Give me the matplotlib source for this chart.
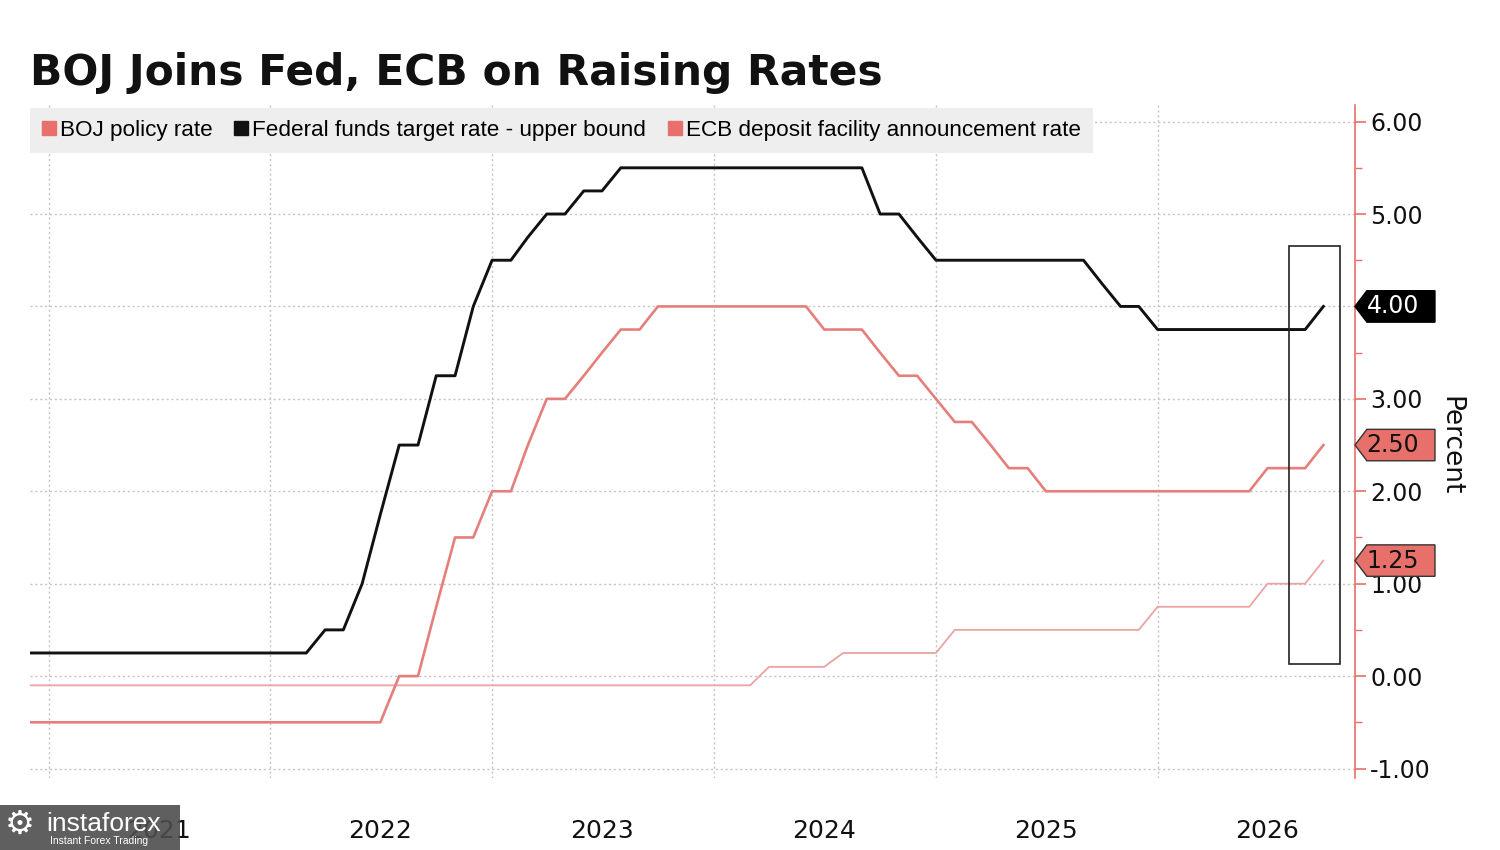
import matplotlib
matplotlib.use('Agg')
import matplotlib.pyplot as plt
import matplotlib.dates as mdates
from matplotlib.patches import Polygon, Rectangle
from matplotlib.lines import Line2D
from matplotlib.ticker import MultipleLocator
from matplotlib.transforms import blended_transform_factory
import pandas as pd

plt.rcParams['font.family'] = ['DejaVu Sans']

# ---------------- data (monthly, Dec 2020 .. Oct 2026) ----------------
months = pd.date_range('2020-12-01', '2026-10-01', freq='MS')

boj = [-0.1, -0.1, -0.1, -0.1, -0.1, -0.1, -0.1, -0.1, -0.1, -0.1,
       -0.1, -0.1, -0.1, -0.1, -0.1, -0.1, -0.1, -0.1, -0.1, -0.1,
       -0.1, -0.1, -0.1, -0.1, -0.1, -0.1, -0.1, -0.1, -0.1, -0.1,
       -0.1, -0.1, -0.1, -0.1, -0.1, -0.1, -0.1, -0.1, -0.1, -0.1,
       0.1, 0.1, 0.1, 0.1,
       0.25, 0.25, 0.25, 0.25, 0.25, 0.25,
       0.5, 0.5, 0.5, 0.5, 0.5, 0.5, 0.5, 0.5, 0.5, 0.5, 0.5,
       0.75, 0.75, 0.75, 0.75, 0.75, 0.75,
       1.0, 1.0, 1.0,
       1.25]

fed = [0.25, 0.25, 0.25, 0.25, 0.25, 0.25, 0.25, 0.25, 0.25, 0.25,
       0.25, 0.25, 0.25, 0.25, 0.25, 0.25,
       0.5, 0.5, 1.0, 1.75, 2.5, 2.5, 3.25, 3.25, 4.0, 4.5, 4.5, 4.75,
       5.0, 5.0, 5.25, 5.25,
       5.5, 5.5, 5.5, 5.5, 5.5, 5.5, 5.5, 5.5, 5.5, 5.5, 5.5, 5.5, 5.5, 5.5,
       5.0, 5.0, 4.75,
       4.5, 4.5, 4.5, 4.5, 4.5, 4.5, 4.5, 4.5, 4.5,
       4.25, 4.0, 4.0,
       3.75, 3.75, 3.75, 3.75, 3.75, 3.75, 3.75, 3.75, 3.75,
       4.0]

ecb = [-0.5, -0.5, -0.5, -0.5, -0.5, -0.5, -0.5, -0.5, -0.5, -0.5,
       -0.5, -0.5, -0.5, -0.5, -0.5, -0.5, -0.5, -0.5, -0.5, -0.5,
       0.0, 0.0, 0.75, 1.5, 1.5, 2.0, 2.0, 2.5, 3.0, 3.0, 3.25, 3.5,
       3.75, 3.75,
       4.0, 4.0, 4.0, 4.0, 4.0, 4.0, 4.0, 4.0, 4.0,
       3.75, 3.75, 3.75, 3.5, 3.25, 3.25, 3.0, 2.75, 2.75, 2.5, 2.25, 2.25,
       2.0, 2.0, 2.0, 2.0, 2.0, 2.0, 2.0, 2.0, 2.0, 2.0, 2.0, 2.0,
       2.25, 2.25, 2.25, 2.5]

series_names = ['BOJ policy rate',
                'Federal funds target rate - upper bound',
                'ECB deposit facility announcement rate']
year_labels = ['2021', '2022', '2023', '2024', '2025', '2026']
y_ticks = [-1, 0, 1, 2, 3, 4, 5, 6]
title = 'BOJ Joins Fed, ECB on Raising Rates'

# ---------------- styles ----------------
SALMON = '#e8706a'
BOJ_C = '#eba3a3'
ECB_C = '#e57f7b'
FED_C = '#111111'
GRID_C = '#c4c4c4'

fig = plt.figure(figsize=(15, 8.5), dpi=100)
ax = fig.add_axes([0.02, 0.085, 0.8833, 0.7915])

ax.plot(months, boj, color=BOJ_C, lw=1.3, zorder=3)
ax.plot(months, ecb, color=ECB_C, lw=1.9, zorder=4)
ax.plot(months, fed, color=FED_C, lw=2.1, zorder=5)

ax.set_xlim(months[0], pd.Timestamp('2026-11-22'))
ax.set_ylim(-1.1, 6.18)

for s in ['left', 'top', 'bottom']:
    ax.spines[s].set_visible(False)
ax.spines['right'].set_color(SALMON)
ax.spines['right'].set_linewidth(1.2)

# last values shown as tags; tick labels hidden where a tag sits
last_vals = [fed[-1], ecb[-1], boj[-1]]

# y axis on right
ax.yaxis.tick_right()
ax.yaxis.set_label_position('right')
ax.set_yticks(y_ticks)
ax.set_yticklabels(['' if v in last_vals else f'{v:.2f}' for v in y_ticks])
ax.yaxis.set_minor_locator(MultipleLocator(0.5))
ax.tick_params(axis='y', which='major', length=8, width=1.2, color=SALMON,
               labelsize=17, pad=3, labelcolor='#111111')
ax.tick_params(axis='y', which='minor', length=5, width=1.0, color=SALMON)

# x axis: year labels centred mid-year, grid at year starts
ax.set_xticks([pd.Timestamp(f'{y}-07-01') for y in year_labels])
ax.set_xticklabels(year_labels)
ax.set_xticks([pd.Timestamp(f'{y}-01-01') for y in year_labels], minor=True)
ax.tick_params(axis='x', which='both', length=0, labelsize=18, pad=30,
               labelcolor='#111111')

ax.grid(axis='y', which='major', linestyle=(0, (1.5, 2)), color=GRID_C, lw=1)
ax.grid(axis='x', which='minor', linestyle=(0, (1.5, 2)), color=GRID_C, lw=1)
ax.grid(axis='x', which='major', visible=False)

# legend
handles = [Line2D([], [], marker='s', ls='none', color=c, markersize=10.5)
           for c in [SALMON, FED_C, SALMON]]
ax.legend(handles, series_names, loc='upper left', bbox_to_anchor=(0, 0.996),
          ncol=3, frameon=True, fancybox=False, facecolor='#eeeeee',
          edgecolor='none', framealpha=1,
          prop={'family': 'Liberation Sans', 'size': 16.2},
          handlelength=0.6, handletextpad=0.2, columnspacing=0.95,
          borderpad=0.55, borderaxespad=0)

# last-value tags on the right axis
trans = blended_transform_factory(ax.transAxes, ax.transData)
tag_w, tag_tip, tag_h = 0.0604, 0.009, 0.17
for val, face, tcol, edge in [(fed[-1], '#000000', 'white', '#000000'),
                              (ecb[-1], SALMON, '#111111', '#333333'),
                              (boj[-1], SALMON, '#111111', '#333333')]:
    poly = Polygon([(1.0, val), (1.0 + tag_tip, val + tag_h),
                    (1.0 + tag_w, val + tag_h), (1.0 + tag_w, val - tag_h),
                    (1.0 + tag_tip, val - tag_h)], closed=True,
                   transform=trans, facecolor=face, edgecolor=edge, lw=1.0,
                   clip_on=False, zorder=6)
    ax.add_patch(poly)
    ax.text(1.0 + 0.0285, val, f'{val:.2f}',
            transform=trans, ha='center', va='center', fontsize=17,
            color=tcol, zorder=7, clip_on=False)

# highlight box around the latest moves
x0 = mdates.date2num(months[-3] + pd.Timedelta(days=5))
x1 = mdates.date2num(months[-1] + pd.Timedelta(days=28))
y0 = boj[-1] - 1.12
y1 = fed[-1] + 0.65
ax.add_patch(Rectangle((x0, y0), x1 - x0, y1 - y0, fill=False,
                       edgecolor='#222222', lw=1.2, zorder=6))

# title and axis label
fig.text(0.02, 0.914, title, fontsize=30.5, fontweight='bold',
         family='DejaVu Sans', va='center', ha='left', color='#111111')
fig.text(0.967, 0.476, 'Percent', rotation=270, fontsize=19,
         ha='center', va='center', color='#111111')

# watermark box
fig.patches.append(Rectangle((0, 0), 180 / 1500, 45 / 850,
                             transform=fig.transFigure, facecolor='#4d4d4d',
                             alpha=0.9, edgecolor='none', zorder=2))
fig.text(0.003, 0.03, '\u2699', fontsize=24, color='white',
         va='center', ha='left', zorder=3)
fig.text(0.031, 0.031, 'instaforex', fontsize=19, color='white',
         va='center', ha='left', zorder=3, family='Liberation Sans')
fig.text(0.033, 0.01, 'Instant Forex Trading', fontsize=7.5, color='white',
         va='center', ha='left', zorder=3, family='Liberation Sans')

fig.savefig('out.png', dpi=100)
